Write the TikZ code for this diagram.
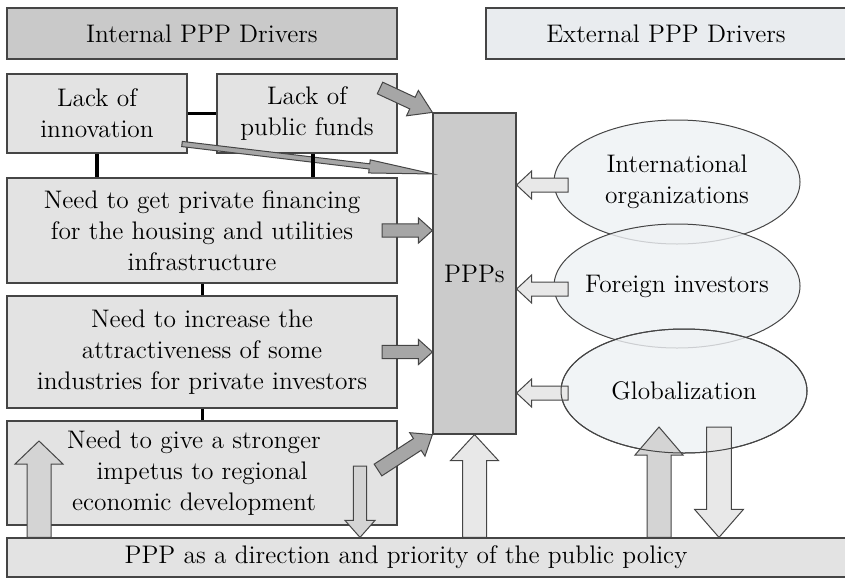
\documentclass[tikz,border=0pt]{standalone}
\usepackage{tikz}
\usetikzlibrary{calc,shapes.geometric}

\definecolor{hdrGray}{HTML}{C9C9C9}
\definecolor{boxGray}{HTML}{E3E3E3}
\definecolor{extBlue}{HTML}{E9ECEF}
\definecolor{ellBlue}{HTML}{EEF1F4}
\definecolor{pppGray}{HTML}{CBCBCB}
\definecolor{edgeGray}{HTML}{454545}
\definecolor{darkArrow}{HTML}{A6A6A6}
\definecolor{midArrow}{HTML}{D4D4D4}
\definecolor{lightArrow}{HTML}{E8E8E8}

% fat block arrow: style, from, to, half shaft, half head, head length
\newcommand{\fatArrow}[6]{%
  \coordinate (hb) at ($(#3)!#6!(#2)$);
  \filldraw[#1] ($(#2)!#4!-90:(#3)$) -- ($(hb)!#4!-90:(#3)$)
    -- ($(hb)!#5!-90:(#3)$) -- (#3) -- ($(hb)!#5!90:(#3)$)
    -- ($(hb)!#4!90:(#3)$) -- ($(#2)!#4!90:(#3)$) -- cycle;
}

\begin{document}
\begin{tikzpicture}
[x=0.5pt,y=-0.5pt,
  boxDecorate/.style={draw=edgeGray,fill=boxGray,line width=0.6pt,inner sep=2pt,
    align=center,font=\fontsize{12.7}{15.5}\selectfont},
  ellDecorate/.style={ellipse,draw=edgeGray,fill=ellBlue,fill opacity=0.8,text opacity=1,
    line width=0.5pt,inner xsep=-25pt,inner ysep=0pt,minimum width=123pt,minimum height=62pt,
    align=center,font=\fontsize{12.7}{15.5}\selectfont},
  lineDecorate/.style={-,line width=1.9pt,black},
  arrowDecorate/.style={draw=edgeGray,line width=0.5pt,fill=#1}]
\useasboundingbox (0,0) rectangle (845,578);
%% headers
\node[boxDecorate,fill=hdrGray,minimum width=195pt,minimum height=25.5pt] (inthdr) at (202,33.5) {Internal PPP Drivers};
\node[boxDecorate,fill=extBlue,minimum width=180pt,minimum height=25.5pt] (exthdr) at (666,33.5) {External PPP Drivers};
%% internal drivers
\node[boxDecorate,minimum width=90pt,minimum height=39.5pt] (innov) at (97,113.5) {Lack of\\innovation};
\node[boxDecorate,minimum width=90pt,minimum height=39.5pt] (funds) at (307,113.5) {Lack of\\public funds};
\foreach \nodename/\y/\h/\txt in {
  fin/230.5/105/{Need to get private financing\\for the housing and utilities\\infrastructure},
  attr/352/112/{Need to increase the\\attractiveness of some\\industries for private investors},
  impetus/473/104/{Need to give a stronger\hspace*{8pt}\\impetus to regional\hspace*{8pt}\\economic development\hspace*{8pt}}}
{
  \node[boxDecorate,minimum width=195pt,minimum height=\h*0.5pt] (\nodename) at (202,\y) {\txt};
}
\node[boxDecorate,minimum width=420pt,minimum height=19.5pt] (policy) at (427,557.5) {PPP as a direction and priority of the public policy\hspace*{21pt}};
\node[boxDecorate,fill=pppGray,minimum width=41.5pt,minimum height=160.5pt] (ppp) at (474.5,273.5) {PPPs};
%% arrow ends
\coordinate (fundsTail) at (380,88);
\coordinate (innovTail) at (182,144);
\coordinate (innovTip) at (433,174);
\coordinate (finTail) at (382,230.5);
\coordinate (finTip) at (ppp.west |- fin.east);
\coordinate (attrTail) at (382,352);
\coordinate (attrTip) at (ppp.west |- attr.east);
\coordinate (impTail) at (378,470);
\coordinate (impUp) at (39,441);
\coordinate (impDown) at (360,466);
\coordinate (pppUp) at (ppp.south |- policy.north);
\coordinate (globUp) at (659,427);
\coordinate (globDown) at (719,427);
%% external drivers
\node[ellDecorate] (intl) at (677,182) {International\\organizations};
\node[ellDecorate] (foreign) at (677,286) {Foreign investors};
\node[ellDecorate] (glob) at (684,391) {Globalization};
\foreach \ext/\y in {intl/185, foreign/289, glob/393}
{
  \coordinate (\ext Tail) at (568,\y);
  \coordinate (\ext Tip) at (ppp.east |- \ext Tail);
  \fatArrow{arrowDecorate=lightArrow}{\ext Tail}{\ext Tip}{3.5pt}{7pt}{7.5pt}
}
%% arrows from below
\fatArrow{arrowDecorate=lightArrow}{pppUp}{ppp.south}{6pt}{12pt}{13pt}
\fatArrow{arrowDecorate=midArrow}{globUp |- policy.north}{globUp}{6pt}{12pt}{14pt}
\fatArrow{arrowDecorate=lightArrow}{globDown}{globDown |- policy.north}{6.2pt}{12.2pt}{14pt}
\node[ellipse,draw=edgeGray,line width=0.5pt,inner sep=0pt,minimum width=123pt,minimum height=62pt] (globEdge) at (glob.center) {};
%% arrows into PPPs
\fatArrow{arrowDecorate=darkArrow}{fundsTail}{ppp.north west}{3.2pt}{7pt}{11pt}
\fatArrow{arrowDecorate=darkArrow}{innovTail}{innovTip}{1.3pt}{3.3pt}{32pt}
\fatArrow{arrowDecorate=darkArrow}{finTail}{finTip}{3.3pt}{6.3pt}{7pt}
\fatArrow{arrowDecorate=darkArrow}{attrTail}{attrTip}{3.3pt}{6.3pt}{7pt}
\fatArrow{arrowDecorate=darkArrow}{impTail}{ppp.south west}{3.5pt}{7pt}{9pt}
\fatArrow{arrowDecorate=midArrow}{impUp |- policy.north}{impUp}{6pt}{12pt}{11.5pt}
\fatArrow{arrowDecorate=midArrow}{impDown}{impDown |- policy.north}{3.3pt}{7.5pt}{8.5pt}
%% links between internal drivers
\draw[lineDecorate] (innov.east) -- (funds.west);
\draw[lineDecorate] (innov.south) -- (innov.south |- fin.north);
\draw[lineDecorate] ([xshift=3pt]funds.south) -- ([xshift=3pt]funds.south |- fin.north);
\draw[lineDecorate,line width=1.5pt] (fin.south) -- (attr.north);
\draw[lineDecorate,line width=1.5pt] (attr.south) -- (impetus.north);
\end{tikzpicture}
\end{document}
